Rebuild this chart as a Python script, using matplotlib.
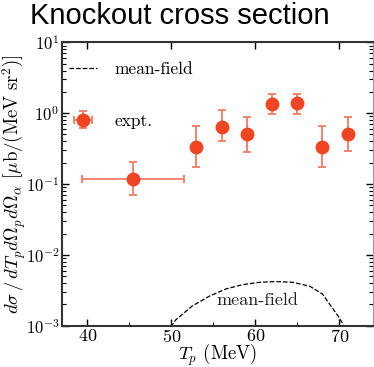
import matplotlib
matplotlib.use("Agg")
import matplotlib.pyplot as plt
from matplotlib.ticker import LogLocator, MultipleLocator, NullFormatter

plt.rcParams['font.family'] = 'serif'
plt.rcParams['font.serif'] = ['cmr10', 'Liberation Serif', 'DejaVu Serif']
plt.rcParams['mathtext.fontset'] = 'cm'
plt.rcParams['axes.formatter.use_mathtext'] = True

# measured points
tp = [45.4, 53.0, 56.0, 59.0, 62.0, 65.0, 68.0, 71.0]
xs = [0.118, 0.336, 0.644, 0.503, 1.36, 1.38, 0.331, 0.507]
xs_hi = [0.206, 0.665, 1.097, 0.883, 1.88, 1.88, 0.66, 0.87]
xs_lo = [0.0706, 0.172, 0.408, 0.283, 0.973, 0.96, 0.175, 0.29]
tp_lo = [39.4, 53.0, 56.0, 59.0, 62.0, 65.0, 68.0, 71.0]
tp_hi = [51.5, 53.0, 56.0, 59.0, 62.0, 65.0, 68.0, 71.0]

# mean-field calculation
tp_mf = [49.5, 50.5, 52.5, 54.5, 56.5, 58.5, 60.5, 62.5, 64.5, 66.5, 68.0, 69.0, 70.0, 71.0]
xs_mf = [0.0008, 0.0012, 0.0019, 0.0026, 0.0033, 0.0038, 0.0041, 0.0042,
         0.0041, 0.0036, 0.0028, 0.0019, 0.0013, 0.0008]

red = '#EF4523'

fig = plt.figure(figsize=(3.74, 3.67), dpi=100)
ax = fig.add_axes([0.166, 0.1125, 0.831, 0.7722])

ax.plot(tp_mf, xs_mf, ls='--', color='k', lw=0.9, label='mean-field')

yerr = [[v - l for v, l in zip(xs, xs_lo)], [h - v for v, h in zip(xs, xs_hi)]]
xerr = [[t - l for t, l in zip(tp, tp_lo)], [h - t for t, h in zip(tp, tp_hi)]]
ax.errorbar(tp, xs, yerr=yerr, xerr=xerr, fmt='o', color=red, ms=9,
            ecolor='#F37A66', elinewidth=1.3, capsize=3, capthick=1.3,
            label='expt.')

ax.text(60.3, 0.0023, 'mean-field', fontsize=13, ha='center', va='center', color='#222222')

ax.set_yscale('log')
ax.set_xlim(37.0, 74.0)
ax.set_ylim(1e-3, 1e1)
ax.xaxis.set_major_locator(MultipleLocator(10))
ax.xaxis.set_minor_locator(MultipleLocator(5))
ax.yaxis.set_major_locator(LogLocator(base=10, numticks=10))
ax.yaxis.set_minor_locator(LogLocator(base=10, subs=range(2, 10), numticks=10))
ax.yaxis.set_minor_formatter(NullFormatter())
ax.tick_params(which='both', direction='in', top=True, right=True, labelsize=13)
ax.tick_params(which='major', length=5, width=1.0)
ax.tick_params(which='minor', length=3, width=0.8)
ax.tick_params(axis='x', which='minor', top=False)
ax.tick_params(axis='x', pad=1.5)
ax.tick_params(axis='y', labelsize=12, pad=2)

for side in ['left', 'bottom', 'top']:
    ax.spines[side].set_linewidth(1.5)
    ax.spines[side].set_color('#333333')
ax.spines['right'].set_color('#999999')

ax.set_xlabel(r'$T_p$ (MeV)', fontsize=13.5, labelpad=-2.2)
ax.set_ylabel(r'$d\sigma\,/\,dT_p d\Omega_p d\Omega_\alpha$ $[\mu{\rm b}/({\rm MeV\ sr}^2)]$',
              fontsize=13.5)
ax.yaxis.set_label_coords(-0.11, 0.5)

ax.legend(loc='upper left', bbox_to_anchor=(-0.016, 0.975), frameon=False,
          fontsize=12.5, labelspacing=2.1, handlelength=1.6, handletextpad=1.0,
          borderaxespad=0.3)

fig.suptitle('Knockout cross section', family='Liberation Sans', fontsize=21, y=0.995, x=0.48)

fig.savefig('out.png', dpi=100)
